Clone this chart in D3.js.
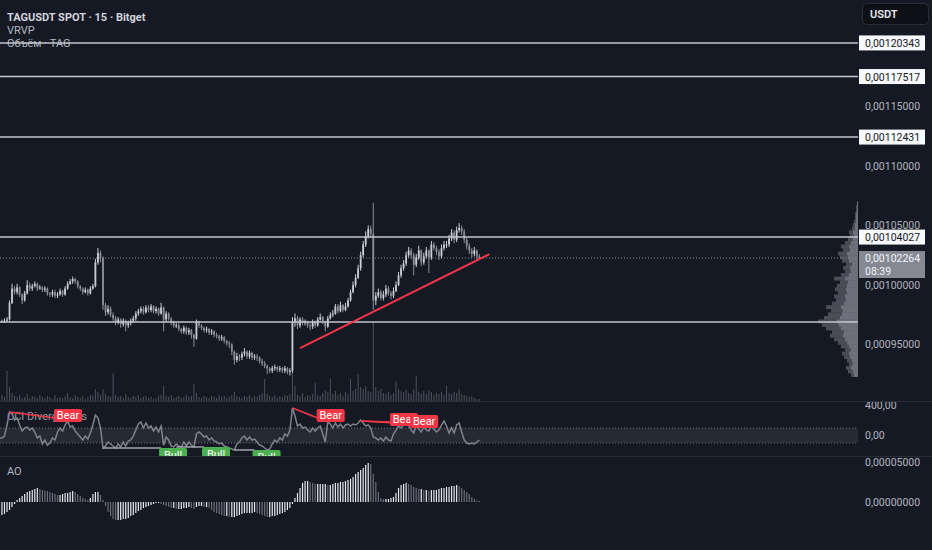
<!DOCTYPE html>
<html>
<head>
<meta charset="utf-8">
<script src="https://cdn.jsdelivr.net/npm/d3@7"></script>
<style>
body{margin:0;background:#151924;}
svg{display:block;font-family:Roboto,"Noto Sans",sans-serif;}
</style>
</head>
<body>
<svg></svg>
<script>
// prices in 1e-6 USDT (1000 = 0,00100000), 15m candles from 14 23:15 to 16 22:45
var firstOpen = 970
var closes = [
970,969,970,971,985,997,994,998,992,987,
993,1000,997,999,1001,997,998,996,997,993,
992,994,991,992,995,992,997,1001,1003,1005,
1003,999,997,994,996,993,997,999,1019,1027,
1023,983,977,980,975,972,969,971,967,970,
966,968,970,972,976,978,980,977,981,979,
982,978,980,976,981,971,976,972,968,966,
966,963,961,964,960,962,958,955,969,966,
964,962,963,960,961,958,957,955,956,953,
951,950,944,937,940,939,942,944,940,943,
939,940,939,936,934,932,930,928,930,931,
929,930,928,930,927,928,969,972,966,971,
968,969,966,965,969,966,971,973,969,965,
972,975,976,982,978,983,979,982,987,994,
1000,1006,1014,1025,1034,1041,1047,1043,987,991,
994,989,992,997,993,991,995,1000,1008,1014,
1018,1025,1029,1025,1017,1023,1029,1019,1024,1029,
1023,1034,1031,1028,1024,1031,1034,1034,1039,1044,
1038,1046,1048,1045,1038,1033,1029,1026,1029,1024,
1022.6]
var highs = [
972,971,972,973,987,1001,999,1001,999,993,
995,1004,1002,1001,1003,1002,1000,999,999,998,
994,996,996,994,997,996,999,1003,1005,1007,
1006,1004,1000,998,998,997,999,1001,1022,1031,
1029,1024,985,983,982,977,974,973,972,972,
971,970,972,974,978,980,982,982,983,983,
984,983,982,981,985,982,978,977,973,970,
968,968,964,966,965,964,963,959,971,970,
967,965,965,964,963,962,960,958,958,957,
954,953,951,945,943,942,944,947,945,945,
944,942,942,940,938,936,933,931,932,933,
932,932,931,932,931,930,973,976,974,973,
973,971,970,968,971,970,973,976,974,970,
974,977,979,984,984,986,984,985,989,996,
1003,1009,1017,1028,1037,1045,1050,1050,1069,994,
997,996,995,1000,999,995,998,1003,1011,1017,
1021,1028,1032,1031,1027,1026,1033,1030,1027,1032,
1030,1037,1036,1033,1030,1034,1037,1037,1042,1047,
1046,1049,1052,1050,1047,1040,1035,1031,1032,1030,
1026]
var lows = [
968,968,968,969,970,984,992,992,990,984,
986,992,995,995,998,995,996,994,994,991,
990,990,989,989,991,990,991,996,1000,1001,
1001,997,995,992,993,991,992,996,998,1017,
1019,979,974,975,973,970,966,967,964,965,
961,964,966,968,970,974,976,975,976,977,
977,976,976,974,975,961,969,970,966,964,
964,961,959,959,958,958,955,948,954,964,
962,960,960,958,958,956,955,953,953,951,
949,947,941,933,935,936,937,940,938,938,
937,937,936,934,932,930,925,926,926,928,
927,927,926,926,925,924,926,965,963,964,
966,966,964,962,963,964,965,970,967,961,
964,971,973,975,976,977,977,978,981,986,
993,998,1005,1012,1023,1032,1039,1040,979,983,
989,987,987,990,991,988,989,994,999,1006,
1012,1016,1023,1022,1008,1015,1021,1016,1017,1022,
1010,1021,1029,1025,1021,1022,1029,1031,1032,1037,
1035,1036,1044,1042,1035,1030,1026,1023,1024,1021,
1021]
// volume, K TAG
var volumes = [
18,6,4,30,14,8,5,4,6,3, 4,7,3,5,4,3,6,4,3,5, 4,2,6,3,4,3,5,8,4,3,
6,4,3,5,2,4,6,5,12,9, 6,12,7,5,4,28,6,4,5,3, 7,4,3,5,4,6,3,4,5,3,
4,2,3,5,6,15,5,4,6,3, 4,5,3,4,6,4,5,17,8,4, 3,5,4,3,5,4,3,6,4,5,
3,4,6,9,5,4,3,5,4,6, 3,5,4,6,8,22,7,5,4,6, 3,5,4,6,5,7,68,15,6,5,
8,4,6,5,7,18,6,5,8,10, 9,22,7,10,6,8,5,9,7,22, 10,12,27,14,12,15,10,9,80,14,
10,12,8,7,9,6,8,20,12,10, 9,11,8,7,12,25,9,8,10,7, 11,9,6,8,7,9,6,15,8,7,
9,8,12,7,6,5,4,5,3,2, 2]
var cci = [
-33,-33,-7,140,313,287,207,233,140,60, 100,113,73,100,47,-33,-7,-113,-60,-127,
-100,-33,-60,47,100,60,140,193,113,127, 60,20,-20,-60,-7,-47,33,140,273,233,
100,-167,-140,-87,-113,-140,-167,-113,-153,-87, -140,-73,-60,-7,73,153,180,100,167,100,
127,60,113,47,127,-127,-20,-60,-140,-153, -113,-140,-153,-87,-140,-87,-127,-153,20,47,
20,-20,-7,-60,-33,-73,-87,-113,-100,-140, -153,-167,-180,-193,-113,-87,-33,-7,-60,-20,
-60,-47,-87,-127,-140,-167,-193,-180,-113,-60, -87,-33,-60,20,-7,73,367,260,127,153,
100,113,73,47,100,60,100,127,20,-87, 180,153,100,167,113,153,100,140,153,127,
153,140,167,207,167,127,140,100,-20,-33, -60,-33,-73,-20,-60,-73,20,73,127,100,
140,153,127,73,33,127,87,47,113,73, 60,127,87,47,73,140,193,127,33,100,
33,140,167,47,-60,-100,-113,-100,-113,-87, -60]
// Awesome Oscillator, 1e-6 USDT
var ao = [
-17.5,-16.3,-15,-12.5,-10,-6.3,-2.5,2.5,5,7.5, 10,12.5,13.8,15,16.3,17.5,16.3,15,14.4,13.8,
12.5,11.3,10,8.8,8.8,10,11.3,11.3,12.5,13.8, 12.5,10,7.5,5,3.8,2.5,5,10,12.5,12.5,
8.8,2.5,-5,-12.5,-17.5,-21.3,-22.5,-22.5,-22.5,-21.3, -21.3,-20,-17.5,-16.3,-13.8,-11.3,-10,-7.5,-6.3,-5,
-3.8,-2.5,-1.3,-1.3,-2.5,-3.8,-5,-6.3,-7.5,-7.5, -8.8,-8.8,-8.8,-7.5,-7.5,-6.3,-7.5,-8.8,-6.3,-5,
-5,-6.3,-6.3,-7.5,-10,-12.5,-13.8,-15,-16.3,-17.5, -17.5,-18.8,-18.8,-18.8,-17.5,-16.3,-15,-13.8,-13.8,-13.8,
-13.8,-12.5,-13.8,-15,-16.3,-17.5,-18.8,-18.8,-17.5,-17.5, -16.3,-15,-13.8,-12.5,-10,-7.5,-2.5,5,11.3,17.5,
23.8,26.3,26.3,25,23.8,22.5,22.5,22.5,22.5,22.5, 21.3,21.3,22.5,23.8,23.8,25,25,26.3,27.5,28.8,
31.3,35,37.5,40,42.5,46.3,48.8,47.5,35,25, 12.5,5,3.8,3.8,3.8,5,6.3,11.3,17.5,21.3,
22.5,23.8,22.5,21.3,18.8,17.5,16.3,16.3,15,15, 13.8,15,15,15,16.3,17.5,17.5,18.8,18.8,20,
20,21.3,20,17.5,15,12.5,10,6.3,3.8,1.9, 1.3]

// VRVP rows, bottom to top
var vpStart = 923, vpStep = 3
var vpTotal = [7,10,12,9,11,14,16,13,17,20,24,28,26,32,36,40,34,30,27,32,26,22,24,20,23,21,18,24,17,13,15,12,16,18,20,15,17,13,10,8,9,6,5,4,3,3,2,2,1]
var vpUp = [4,5,7,5,6,8,9,7,9,11,13,15,14,17,19,21,18,16,15,17,14,12,13,11,12,11,10,13,9,7,8,6,9,10,11,8,9,7,5,4,5,3,3,2,2,2,1,1,1]

// drawn horizontal levels
var levels = [1203.43, 1175.17, 1124.31, 1040.27]
var levelNoLabel = 968.9
var lastPrice = 1022.64
var countdown = '08:39'
var priceTicks = [950, 1000, 1050, 1100, 1150]
// trend line: [candle index, price]
var trend = [[119, 947], [194, 1026]]
// divergences: [from index, from cci, to index, to cci]
var bearDiv = [[4, 313, 22, 233], [116, 367, 126, 233], [143, 193, 155, 180], [143, 193, 163, 153]]
var bullDiv = [[41, -167, 64, -167], [70, -153, 81, -153], [93, -193, 101, -193]]

var W = 932, H = 550, plotW = 858
var font = 'Roboto,"Noto Sans",sans-serif'
var svg = d3.select('svg').attr('width', W).attr('height', H)
svg.append('rect').attr('width', W).attr('height', H).attr('fill', '#151924')

var t0 = new Date(Date.UTC(2025, 0, 14, 23, 15))
var times = d3.utcMinute.every(15).range(t0, new Date(Date.UTC(2025, 0, 16, 23, 0)))
var x = d3.scaleUtc()
  .domain([new Date(Date.UTC(2025, 0, 15)), new Date(Date.UTC(2025, 0, 17))])
  .range([7, 492])
var xi = i => x(d3.utcMinute.offset(t0, 15 * i))

var candles = times.map((t, i) => ({
  t: t, o: i ? closes[i - 1] : firstOpen, h: highs[i], l: lows[i], c: closes[i], v: volumes[i]
}))

// panes
var yMain = d3.scaleLinear().domain([902.5, 1239.5]).range([401, 0])
var yVol = d3.scaleLinear().domain([0, 80]).range([401, 321])
var yCci = d3.scaleLinear().domain([-273.3, 446.7]).range([456, 402])
var yAo = d3.scaleLinear().domain([-32.5, 56.25]).range([528, 457])
var fmt8 = v => (v * 1e-6).toFixed(8).replace('.', ',')

var defs = svg.append('defs')
defs.append('clipPath').attr('id', 'cMain').append('rect').attr('width', plotW).attr('height', 401)
defs.append('clipPath').attr('id', 'cCci').append('rect').attr('y', 402).attr('width', W).attr('height', 54)
defs.append('clipPath').attr('id', 'cTime').append('rect').attr('y', 528).attr('width', plotW).attr('height', 22)

var main = svg.append('g').attr('clip-path', 'url(#cMain)')

// legend
var legend = main.append('g').attr('font-size', 11)
legend.append('text').attr('x', 7).attr('y', 21).attr('fill', '#d1d4dc').attr('font-weight', 'bold').text('TAGUSDT SPOT · 15 · Bitget')
legend.append('text').attr('x', 7).attr('y', 34).attr('fill', '#b2b5be').text('VRVP')
legend.append('text').attr('x', 7).attr('y', 47).attr('fill', '#b2b5be').text('Объём · TAG')

// volume profile
var xVp = d3.scaleLinear().domain([0, 40]).range([0, 40])
var rowY = k => yMain(vpStart + (k + 1) * vpStep)
var rowH = k => yMain(vpStart + k * vpStep) - yMain(vpStart + (k + 1) * vpStep) + 0.3
main.selectAll('.vpT').data(vpTotal).enter().append('rect')
  .attr('x', d => plotW - xVp(d)).attr('y', (d, k) => rowY(k))
  .attr('width', d => xVp(d)).attr('height', (d, k) => rowH(k))
  .attr('fill', '#4a4d58')
main.selectAll('.vpU').data(vpUp).enter().append('rect')
  .attr('x', d => plotW - xVp(d)).attr('y', (d, k) => rowY(k))
  .attr('width', d => xVp(d)).attr('height', (d, k) => rowH(k))
  .attr('fill', '#6d707b')

// volume
main.selectAll('.vol').data(candles).enter().append('rect')
  .attr('x', d => x(d.t) - 0.5)
  .attr('y', d => yVol(d.v))
  .attr('width', 1)
  .attr('height', d => 401 - yVol(d.v))
  .attr('fill', '#4e525d')

// candles
var up = '#c9ccd4', down = '#8b8e98'
var cg = main.selectAll('.candle').data(candles).enter().append('g')
cg.append('line')
  .attr('x1', d => x(d.t)).attr('x2', d => x(d.t))
  .attr('y1', d => yMain(d.h)).attr('y2', d => yMain(d.l))
  .attr('stroke', d => d.c >= d.o ? up : down).attr('stroke-width', 1)
cg.append('rect')
  .attr('x', d => x(d.t) - 0.9)
  .attr('y', d => yMain(Math.max(d.o, d.c)))
  .attr('width', 1.8)
  .attr('height', d => Math.max(1, Math.abs(yMain(d.o) - yMain(d.c))))
  .attr('fill', d => d.c >= d.o ? up : down)

// horizontal levels
levels.concat([levelNoLabel]).forEach(p => {
  main.append('line').attr('x1', 0).attr('x2', plotW)
    .attr('y1', yMain(p)).attr('y2', yMain(p))
    .attr('stroke', '#c3c6ce').attr('stroke-width', 1.5)
})
main.append('line').attr('x1', 0).attr('x2', plotW)
  .attr('y1', yMain(lastPrice)).attr('y2', yMain(lastPrice))
  .attr('stroke', '#8b8e98').attr('stroke-dasharray', '1,2')

// trend line
main.append('line')
  .attr('x1', xi(trend[0][0])).attr('y1', yMain(trend[0][1]))
  .attr('x2', xi(trend[1][0])).attr('y2', yMain(trend[1][1]))
  .attr('stroke', '#f23645').attr('stroke-width', 2)

// separators
;[401.5, 456.5].forEach(y => {
  svg.append('line').attr('x1', 0).attr('x2', W).attr('y1', y).attr('y2', y).attr('stroke', '#2a2e39')
})

// CCI pane
var cciG = svg.append('g').attr('clip-path', 'url(#cCci)')
cciG.append('rect').attr('x', 0).attr('width', plotW)
  .attr('y', yCci(100)).attr('height', yCci(-100) - yCci(100)).attr('fill', '#262a35')
;[100, -100].forEach(v => {
  cciG.append('line').attr('x1', 0).attr('x2', plotW).attr('y1', yCci(v)).attr('y2', yCci(v))
    .attr('stroke', '#6a6d78').attr('stroke-dasharray', '1,2')
})
cciG.append('text').attr('x', 7).attr('y', 420).attr('font-size', 11).attr('fill', '#9598a1').text('CCI Divergences')
cciG.append('path').datum(cci)
  .attr('d', d3.line().x((d, i) => xi(i)).y(d => yCci(d)))
  .attr('fill', 'none').attr('stroke', '#80838d').attr('stroke-width', 1.5)

bullDiv.forEach(d => {
  cciG.append('line').attr('x1', xi(d[0])).attr('y1', yCci(d[1])).attr('x2', xi(d[2])).attr('y2', yCci(d[3]))
    .attr('stroke', '#a3a6af').attr('stroke-width', 1.5)
})
bearDiv.forEach(d => {
  cciG.append('line').attr('x1', xi(d[0])).attr('y1', yCci(d[1])).attr('x2', xi(d[2])).attr('y2', yCci(d[3]))
    .attr('stroke', '#f23645').attr('stroke-width', 1.5)
})
bullDiv.forEach(d => {
  var bx = xi(d[2]) - 2, by = yCci(d[3])
  cciG.append('rect').attr('x', bx).attr('y', by).attr('width', 28).attr('height', 14).attr('rx', 2).attr('fill', '#4caf50')
  cciG.append('text').attr('x', bx + 14).attr('y', by + 11).attr('text-anchor', 'middle')
    .attr('font-size', 11).attr('fill', '#fff').text('Bull')
})
bearDiv.forEach(d => {
  var bx = xi(d[2]) - 1, by = yCci(d[3]) - 9
  cciG.append('rect').attr('x', bx).attr('y', by).attr('width', 28).attr('height', 13).attr('rx', 2).attr('fill', '#f23645')
  cciG.append('text').attr('x', bx + 14).attr('y', by + 10).attr('text-anchor', 'middle')
    .attr('font-size', 11).attr('fill', '#fff').text('Bear')
})

// AO pane
svg.append('text').attr('x', 7).attr('y', 475).attr('font-size', 11).attr('fill', '#b2b5be').text('AO')
svg.selectAll('.ao').data(ao).enter().append('rect')
  .attr('x', (d, i) => xi(i) - 0.6)
  .attr('y', d => yAo(Math.max(0, d)))
  .attr('width', 1.2)
  .attr('height', d => Math.abs(yAo(d) - yAo(0)))
  .attr('fill', (d, i) => i > 0 && d < ao[i - 1] ? '#6a6d78' : '#e6e8ee')

// price axes
function styleAxis(g) {
  g.select('.domain').remove()
  g.selectAll('text').attr('fill', '#b2b5be').attr('font-size', 10.5).attr('font-family', font)
}
svg.append('g').attr('transform', `translate(${plotW},0)`)
  .call(d3.axisRight(yMain).tickValues(priceTicks).tickSize(0).tickPadding(7).tickFormat(fmt8))
  .call(styleAxis)
svg.append('g').attr('transform', `translate(${plotW},0)`).attr('clip-path', 'url(#cCci)')
  .call(d3.axisRight(yCci).tickValues([0, 400]).tickSize(0).tickPadding(7).tickFormat(v => v.toFixed(2).replace('.', ',')))
  .call(styleAxis)
svg.append('g').attr('transform', `translate(${plotW},0)`)
  .call(d3.axisRight(yAo).tickValues([0, 50]).tickSize(0).tickPadding(7).tickFormat(fmt8))
  .call(styleAxis)

// level labels
levels.forEach(p => {
  svg.append('rect').attr('x', 859).attr('y', yMain(p) - 7.5).attr('width', 66).attr('height', 15).attr('fill', '#f8f9fd')
  svg.append('text').attr('x', 865).attr('y', yMain(p) + 4).attr('font-size', 10.5).attr('fill', '#131722').text(fmt8(p))
})
// last price + countdown
var ly = yMain(lastPrice)
svg.append('rect').attr('x', 859).attr('y', ly - 7).attr('width', 66).attr('height', 27).attr('fill', '#868993')
svg.append('text').attr('x', 865).attr('y', ly + 4).attr('font-size', 10.5).attr('fill', '#f0f3fa').text(fmt8(lastPrice))
svg.append('text').attr('x', 865).attr('y', ly + 17).attr('font-size', 10.5).attr('fill', '#f0f3fa').text(countdown)

// currency button
svg.append('rect').attr('x', 862.5).attr('y', 3.5).attr('width', 66).attr('height', 21).attr('rx', 4)
  .attr('fill', '#0e1016').attr('stroke', '#2a2e39')
svg.append('text').attr('x', 870).attr('y', 18).attr('font-size', 11).attr('font-weight', 600).attr('fill', '#e6e8ee').text('USDT')

// time axis
var timeTicks = d3.utcHour.every(6).range(new Date(Date.UTC(2025, 0, 15)), new Date(Date.UTC(2025, 0, 18, 13)))
svg.append('g').attr('transform', 'translate(0,528)').attr('clip-path', 'url(#cTime)')
  .call(d3.axisBottom(x).tickValues(timeTicks).tickSize(0).tickPadding(5)
    .tickFormat(d => d.getUTCHours() === 0 ? d.getUTCDate() : d3.utcFormat('%H:%M')(d)))
  .call(styleAxis)
</script>
</body>
</html>
